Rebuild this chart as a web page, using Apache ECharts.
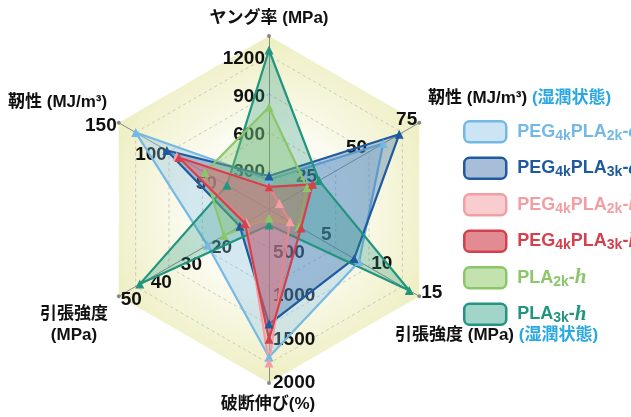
<!DOCTYPE html>
<html>
<head>
<meta charset="utf-8">
<script src="https://cdn.jsdelivr.net/npm/echarts@6/dist/echarts.min.js"></script>
<style>
html,body{margin:0;padding:0;background:#fff}
#main{width:631px;height:417px}
</style>
</head>
<body>
<div id="main"></div>
<script>
// axes go counter-clockwise from the top
var axisNames = ['ヤング率 (MPa)', '靭性 (MJ/m³)', '引張強度 (MPa)', '破断伸び(%)', '引張強度 (MPa) (湿潤状態)', '靭性 (MJ/m³) (湿潤状態)'];
var axisMax = [18000 / 13, 150, 50, 2000, 15, 75];
var labelStep = [300, 50, 10, 500, 5, 25];
var labelFrom = [300, 50, 20, 500, 5, 25];
var labelTo = [1200, 150, 50, 2000, 15, 75];

var seriesNames = ['PEG4kPLA2k-c', 'PEG4kPLA3k-c', 'PEG4kPLA2k-h', 'PEG4kPLA3k-h', 'PLA2k-h', 'PLA3k-h'];
var legendText = ['PEG{s|4k}PLA{s|2k}-{i|c}', 'PEG{s|4k}PLA{s|3k}-{i|c}', 'PEG{s|4k}PLA{s|2k}-{i|h}', 'PEG{s|4k}PLA{s|3k}-{i|h}', 'PLA{s|2k}-{i|h}', 'PLA{s|3k}-{i|h}'];
var peg2kC = [240, 133, 20.5, 1700, 9, 57];
var peg3kC = [267, 102, 9.7, 1320, 8.5, 65];
var peg2kH = [180, 92, 7.5, 1770, 2.1, 5.2];
var peg3kH = [180, 90, 8, 1496, 3.2, 21.8];
var pla2kH = [818, 64, 15, 100, 3, 19];
var pla3kH = [1273, 42, 43, 180, 14, 25];

var lineColors = ['#74b8e6', '#1f5a9e', '#f39ea2', '#d3414d', '#8cc66a', '#22957f'];
var fillColors = ['rgba(125,188,232,0.45)', 'rgba(35,92,162,0.45)', 'rgba(243,158,162,0.45)', 'rgba(211,65,77,0.4)', 'rgba(140,198,106,0.5)', 'rgba(34,149,127,0.4)'];
var iconFills = ['#cbe5f4', '#a8bdd8', '#f9cdcf', '#e28b92', '#c3e2ad', '#a2d4ca'];

var cx = 269, cy = 209.5, R = 173.5;
var font = "'Liberation Sans', 'Noto Sans CJK JP', sans-serif";

var chart = echarts.init(document.getElementById('main'), null, {renderer: 'canvas'});

function tickText(v, i) {
    var k = v / labelStep[i];
    if (Math.abs(k - Math.round(k)) > 1e-6) return '';
    if (v < labelFrom[i] - 1e-6 || v > labelTo[i] + 1e-6) return '';
    return String(Math.round(v));
}

var bgIndicator = axisNames.map(function (n, i) { return {name: n, min: 0, max: axisMax[i]}; });
var labelIndicator = axisNames.map(function (n, i) {
    return {
        name: n, min: 0, max: axisMax[i],
        axisLabel: {
            show: true, margin: 4, color: '#111', fontSize: 19, fontWeight: 'bold', fontFamily: font,
            formatter: function (v) { return tickText(v, i); }
        }
    };
});

var data = [peg2kC, peg3kC, peg2kH, peg3kH, pla2kH, pla3kH];
var drawOrder = [0, 1, 5, 4, 2, 3];
var series = drawOrder.map(function (k) {
    return {
        type: 'radar',
        radarIndex: 2,
        name: seriesNames[k],
        symbol: 'triangle',
        symbolSize: 9,
        lineStyle: {color: lineColors[k], width: 2.2},
        itemStyle: {color: lineColors[k]},
        areaStyle: {color: fillColors[k]},
        data: [{name: seriesNames[k], value: data[k]}]
    };
});

var option = {
    backgroundColor: '#fff',
    animation: false,
    radar: [
        {   // background hexagon + axis lines
            center: [cx, cy], radius: R, startAngle: 90, shape: 'polygon', splitNumber: 1,
            indicator: bgIndicator,
            axisName: {show: false},
            splitLine: {show: false},
            splitArea: {show: true, areaStyle: {color: [{
                type: 'radial', x: cx, y: cy, r: R + 2, global: true,
                colorStops: [{offset: 0, color: '#ffffff'}, {offset: 0.45, color: '#fbfbf1'}, {offset: 1, color: '#eeeec1'}]
            }]}},
            axisLine: {show: true, symbol: ['none', 'circle'], symbolSize: [4, 4], lineStyle: {color: '#8a8a8a', width: 1}},
            axisTick: {show: false},
            axisLabel: {show: false}
        },
        {   // dashed grid
            center: [cx, cy], radius: 154, startAngle: 90, shape: 'polygon', splitNumber: 4,
            indicator: bgIndicator,
            axisName: {show: false},
            splitLine: {show: true, lineStyle: {color: '#bdbdbd', type: [3, 3], width: 0.8}},
            splitArea: {show: false},
            axisLine: {show: false},
            axisTick: {show: false},
            axisLabel: {show: false}
        },
        {   // data + tick labels
            center: [cx, cy], radius: R, startAngle: 90, shape: 'polygon', splitNumber: 60,
            indicator: labelIndicator,
            axisName: {show: false},
            splitLine: {show: false},
            splitArea: {show: false},
            axisLine: {show: false},
            axisTick: {show: false},
            axisLabel: {show: false}
        }
    ],
    legend: {
        orient: 'vertical',
        left: 463,
        top: 120,
        padding: 0,
        itemWidth: 42,
        itemHeight: 21,
        itemGap: 13,
        icon: 'roundRect',
        selectedMode: false,
        data: seriesNames.map(function (n, i) {
            return {
                name: n,
                itemStyle: {color: iconFills[i], borderColor: lineColors[i], borderWidth: 2.5},
                textStyle: {color: lineColors[i]}
            };
        }),
        formatter: function (name) { return legendText[seriesNames.indexOf(name)]; },
        textStyle: {
            fontFamily: font, fontSize: 18, fontWeight: 'bold', lineHeight: 22, padding: [0, 0, 0, 6],
            rich: {
                s: {fontFamily: font, fontSize: 14, fontWeight: 'bold', verticalAlign: 'bottom', lineHeight: 22},
                i: {fontFamily: "'Liberation Serif', serif", fontSize: 21, fontStyle: 'italic', fontWeight: 'bold', lineHeight: 22}
            }
        }
    },
    graphic: [
        {type: 'text', x: 269, y: 18, style: {text: axisNames[0], font: 'bold 17px ' + font, fill: '#111', align: 'center', verticalAlign: 'middle'}},
        {type: 'text', x: 8, y: 102, style: {text: '靭性 (MJ/m³)', font: 'bold 17px ' + font, fill: '#111', align: 'left', verticalAlign: 'middle'}},
        {type: 'text', x: 74, y: 325, style: {text: '引張強度\n(MPa)', font: 'bold 17px ' + font, lineHeight: 21, fill: '#111', align: 'center', verticalAlign: 'middle'}},
        {type: 'text', x: 268, y: 404, style: {text: axisNames[3], font: 'bold 17px ' + font, fill: '#111', align: 'center', verticalAlign: 'middle'}},
        {type: 'text', x: 395, y: 335, style: {
            text: '引張強度 (MPa) {b|(湿潤状態)}', font: 'bold 17px ' + font, fill: '#111', align: 'left', verticalAlign: 'middle',
            rich: {b: {fill: '#2aa8e2', font: 'bold 17px ' + font}}
        }},
        {type: 'text', x: 428, y: 98, style: {
            text: '靭性 (MJ/m³) {b|(湿潤状態)}', font: 'bold 17px ' + font, fill: '#111', align: 'left', verticalAlign: 'middle',
            rich: {b: {fill: '#2aa8e2', font: 'bold 17px ' + font}}
        }}
    ],
    series: series
};

chart.setOption(option);
</script>
</body>
</html>
